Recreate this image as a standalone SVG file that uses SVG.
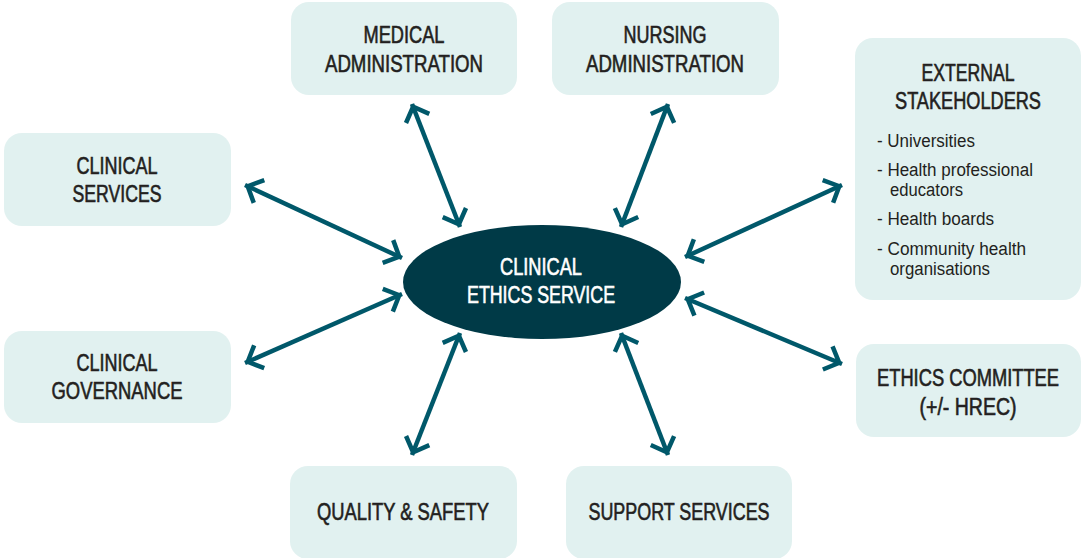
<svg xmlns="http://www.w3.org/2000/svg" width="1081" height="558" viewBox="0 0 1081 558">
<defs>
<style>
.box{fill:#e1f1f0;}
.t{font-family:"Liberation Sans",Arial,sans-serif;font-size:23px;fill:#231f20;text-anchor:middle;stroke:#231f20;stroke-width:0.6;}
.s{font-family:"Liberation Sans",Arial,sans-serif;font-size:19px;fill:#231f20;}
.w{font-family:"Liberation Sans",Arial,sans-serif;font-size:23px;fill:#ffffff;text-anchor:middle;stroke:#ffffff;stroke-width:0.6;}
.c{stroke:#00586a;stroke-width:4.5;fill:none;marker-start:url(#ah);marker-end:url(#ah);}
</style>
<marker id="ah" markerUnits="userSpaceOnUse" markerWidth="30" markerHeight="30" viewBox="-20 -15 30 30" refX="0" refY="0" orient="auto-start-reverse">
<path d="M-15.5,-12.5 L-3,0 L-15.5,12.5" fill="none" stroke="#00586a" stroke-width="4.5" stroke-linejoin="miter"/>
</marker>
</defs>
<g id="connectors">
<line class="c" x1="460" y1="227" x2="412" y2="104"/>
<line class="c" x1="621" y1="227" x2="668" y2="104"/>
<line class="c" x1="402" y1="258" x2="245" y2="185"/>
<line class="c" x1="685" y1="257" x2="842" y2="185"/>
<line class="c" x1="402" y1="294" x2="245" y2="363"/>
<line class="c" x1="685" y1="298" x2="842" y2="364"/>
<line class="c" x1="460" y1="333" x2="412" y2="455"/>
<line class="c" x1="621" y1="333" x2="668" y2="455"/>
</g>
<g id="center">
<ellipse cx="542" cy="282" rx="139" ry="57" fill="#003a47"/>
<text class="w" transform="translate(541,275) scale(0.815,1)" textLength="100.6" lengthAdjust="spacingAndGlyphs">CLINICAL</text>
<text class="w" transform="translate(541,303) scale(0.815,1)" textLength="181.6" lengthAdjust="spacingAndGlyphs">ETHICS SERVICE</text>
</g>
<g id="medical">
<rect class="box" x="291" y="2" width="226" height="93" rx="18"/>
<text class="t" transform="translate(404,43) scale(0.815,1)" textLength="99.4" lengthAdjust="spacingAndGlyphs">MEDICAL</text>
<text class="t" transform="translate(404,72) scale(0.815,1)" textLength="193.9" lengthAdjust="spacingAndGlyphs">ADMINISTRATION</text>
</g>
<g id="nursing">
<rect class="box" x="552" y="2" width="227" height="93" rx="18"/>
<text class="t" transform="translate(665,43) scale(0.815,1)" textLength="101.8" lengthAdjust="spacingAndGlyphs">NURSING</text>
<text class="t" transform="translate(665,72) scale(0.815,1)" textLength="193.9" lengthAdjust="spacingAndGlyphs">ADMINISTRATION</text>
</g>
<g id="clinical-services">
<rect class="box" x="4" y="133" width="227" height="93" rx="18"/>
<text class="t" transform="translate(117,174) scale(0.815,1)" textLength="99.4" lengthAdjust="spacingAndGlyphs">CLINICAL</text>
<text class="t" transform="translate(117,202) scale(0.815,1)" textLength="109.2" lengthAdjust="spacingAndGlyphs">SERVICES</text>
</g>
<g id="clinical-governance">
<rect class="box" x="4" y="331" width="227" height="92" rx="18"/>
<text class="t" transform="translate(117,371) scale(0.815,1)" textLength="99.4" lengthAdjust="spacingAndGlyphs">CLINICAL</text>
<text class="t" transform="translate(117,399) scale(0.815,1)" textLength="160.7" lengthAdjust="spacingAndGlyphs">GOVERNANCE</text>
</g>
<g id="external">
<rect class="box" x="855" y="38" width="226" height="262" rx="18"/>
<text class="t" transform="translate(968,81) scale(0.815,1)" textLength="114.1" lengthAdjust="spacingAndGlyphs">EXTERNAL</text>
<text class="t" transform="translate(968,109) scale(0.815,1)" textLength="179.1" lengthAdjust="spacingAndGlyphs">STAKEHOLDERS</text>
<text class="s" transform="translate(877,147) scale(0.9,1)" textLength="108.9" lengthAdjust="spacingAndGlyphs">- Universities</text>
<text class="s" transform="translate(877,176) scale(0.9,1)" textLength="173.3" lengthAdjust="spacingAndGlyphs">- Health professional</text>
<text class="s" transform="translate(890,196) scale(0.9,1)" textLength="81.1" lengthAdjust="spacingAndGlyphs">educators</text>
<text class="s" transform="translate(877,225) scale(0.9,1)" textLength="130" lengthAdjust="spacingAndGlyphs">- Health boards</text>
<text class="s" transform="translate(877,255) scale(0.9,1)" textLength="165.6" lengthAdjust="spacingAndGlyphs">- Community health</text>
<text class="s" transform="translate(890,275) scale(0.9,1)" textLength="111.1" lengthAdjust="spacingAndGlyphs">organisations</text>
</g>
<g id="ethics-committee">
<rect class="box" x="856" y="344" width="225" height="93" rx="18"/>
<text class="t" transform="translate(968,386) scale(0.815,1)" textLength="223.3" lengthAdjust="spacingAndGlyphs">ETHICS COMMITTEE</text>
<text class="t" transform="translate(968,415) scale(0.815,1)" textLength="119" lengthAdjust="spacingAndGlyphs">(+/- HREC)</text>
</g>
<g id="quality">
<rect class="box" x="290" y="466" width="227" height="93" rx="18"/>
<text class="t" transform="translate(403,520) scale(0.815,1)" textLength="211" lengthAdjust="spacingAndGlyphs">QUALITY &amp; SAFETY</text>
</g>
<g id="support">
<rect class="box" x="566" y="466" width="226" height="93" rx="18"/>
<text class="t" transform="translate(679,520) scale(0.815,1)" textLength="222.1" lengthAdjust="spacingAndGlyphs">SUPPORT SERVICES</text>
</g>
</svg>
